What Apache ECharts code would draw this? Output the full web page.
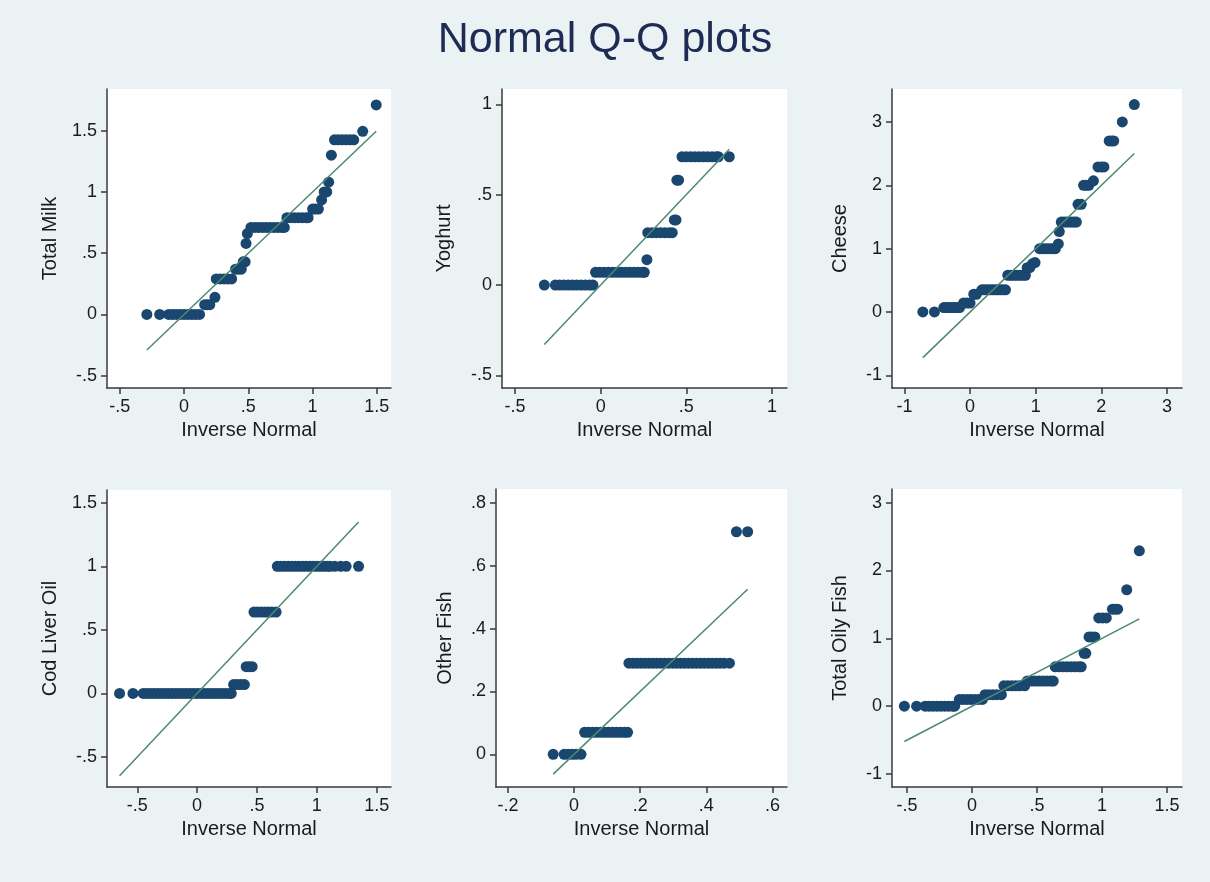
<!DOCTYPE html>
<html><head><meta charset="utf-8">
<script src="https://cdn.jsdelivr.net/npm/echarts@6/dist/echarts.min.js"></script>
<style>html,body{margin:0;padding:0;background:#eaf2f3}#c{width:1210px;height:882px}</style>
</head><body><div id="c"></div>
<script>
const chartTitle = 'Normal Q-Q plots';
const panelNames = ['Total Milk', 'Yoghurt', 'Cheese', 'Cod Liver Oil', 'Other Fish', 'Total Oily Fish'];
const xAxisName = 'Inverse Normal';

const xTicks = [
  [-0.5, 0, 0.5, 1, 1.5],
  [-0.5, 0, 0.5, 1],
  [-1, 0, 1, 2, 3],
  [-0.5, 0, 0.5, 1, 1.5],
  [-0.2, 0, 0.2, 0.4, 0.6],
  [-0.5, 0, 0.5, 1, 1.5]
];
const yTicks = [
  [-0.5, 0, 0.5, 1, 1.5],
  [-0.5, 0, 0.5, 1],
  [-1, 0, 1, 2, 3],
  [-0.5, 0, 0.5, 1, 1.5],
  [0, 0.2, 0.4, 0.6, 0.8],
  [-1, 0, 1, 2, 3]
];
const xRanges = [[-0.60, 1.61], [-0.576, 1.088], [-1.19, 3.23], [-0.753, 1.62], [-0.236, 0.644], [-0.615, 1.615]];
const yRanges = [[-0.60, 1.84], [-0.57, 1.085], [-1.2, 3.52], [-0.736, 1.6], [-0.104, 0.844], [-1.19, 3.2]];

// [inverse normal, observed]
const totalMilkPoints = [
  [-0.29, 0], [-0.19, 0],
  [-0.12, 0], [-0.09, 0], [-0.06, 0], [-0.03, 0], [0, 0], [0.03, 0], [0.06, 0], [0.09, 0], [0.12, 0],
  [0.16, 0.08], [0.18, 0.08], [0.20, 0.08], [0.24, 0.14],
  [0.25, 0.29], [0.28, 0.29], [0.31, 0.29], [0.34, 0.29], [0.37, 0.29],
  [0.40, 0.37], [0.42, 0.37], [0.445, 0.37],
  [0.46, 0.43], [0.475, 0.43], [0.482, 0.58], [0.492, 0.66],
  [0.52, 0.71], [0.55, 0.71], [0.58, 0.71], [0.61, 0.71], [0.64, 0.71], [0.67, 0.71], [0.70, 0.71], [0.73, 0.71], [0.76, 0.71], [0.78, 0.71],
  [0.80, 0.79], [0.83, 0.79], [0.86, 0.79], [0.89, 0.79], [0.92, 0.79], [0.95, 0.79], [0.965, 0.79],
  [1.0, 0.86], [1.02, 0.86], [1.045, 0.86],
  [1.07, 0.935], [1.09, 1.0], [1.11, 1.0], [1.125, 1.08], [1.146, 1.30],
  [1.17, 1.425], [1.20, 1.425], [1.23, 1.425], [1.26, 1.425], [1.29, 1.425], [1.32, 1.425],
  [1.39, 1.495], [1.495, 1.71]
];
const yoghurtPoints = [
  [-0.329, 0],
  [-0.265, 0], [-0.24, 0], [-0.215, 0], [-0.19, 0], [-0.165, 0], [-0.14, 0], [-0.115, 0], [-0.09, 0], [-0.065, 0], [-0.045, 0],
  [-0.03, 0.07], [-0.005, 0.07], [0.02, 0.07], [0.045, 0.07], [0.07, 0.07], [0.095, 0.07], [0.12, 0.07], [0.145, 0.07], [0.17, 0.07], [0.195, 0.07], [0.22, 0.07], [0.245, 0.07], [0.255, 0.07],
  [0.27, 0.14],
  [0.275, 0.29], [0.30, 0.29], [0.325, 0.29], [0.35, 0.29], [0.375, 0.29], [0.40, 0.29], [0.418, 0.29],
  [0.43, 0.36], [0.44, 0.36],
  [0.445, 0.58], [0.455, 0.58],
  [0.475, 0.71], [0.50, 0.71], [0.525, 0.71], [0.55, 0.71], [0.575, 0.71], [0.60, 0.71], [0.625, 0.71], [0.65, 0.71], [0.675, 0.71], [0.687, 0.71],
  [0.751, 0.71]
];
const cheesePoints = [
  [-0.72, 0], [-0.543, 0],
  [-0.40, 0.07], [-0.36, 0.07], [-0.32, 0.07], [-0.28, 0.07], [-0.24, 0.07], [-0.20, 0.07], [-0.16, 0.07],
  [-0.10, 0.14], [-0.05, 0.14], [0.0, 0.14],
  [0.056, 0.28], [0.096, 0.28],
  [0.18, 0.35], [0.22, 0.35], [0.26, 0.35], [0.30, 0.35], [0.34, 0.35], [0.38, 0.35], [0.42, 0.35], [0.46, 0.35], [0.50, 0.35], [0.54, 0.35],
  [0.575, 0.58], [0.62, 0.58], [0.665, 0.58], [0.71, 0.58], [0.755, 0.58], [0.80, 0.58], [0.843, 0.58],
  [0.87, 0.70], [0.91, 0.70],
  [0.95, 0.76], [0.99, 0.78],
  [1.06, 1.0], [1.10, 1.0], [1.14, 1.0], [1.18, 1.0], [1.22, 1.0], [1.26, 1.0], [1.30, 1.0],
  [1.345, 1.074], [1.36, 1.27],
  [1.39, 1.42], [1.43, 1.42], [1.47, 1.42], [1.51, 1.42], [1.55, 1.42], [1.59, 1.42], [1.62, 1.42],
  [1.645, 1.70], [1.695, 1.70],
  [1.73, 2.0], [1.77, 2.0], [1.81, 2.0],
  [1.88, 2.07],
  [1.95, 2.29], [2.0, 2.29], [2.04, 2.29],
  [2.12, 2.70], [2.16, 2.70], [2.19, 2.70],
  [2.32, 3.0], [2.503, 3.274]
];
const codLiverOilPoints = [
  [-0.648, 0], [-0.536, 0],
  [-0.45, 0], [-0.42, 0], [-0.39, 0], [-0.36, 0], [-0.33, 0], [-0.30, 0], [-0.27, 0], [-0.24, 0], [-0.21, 0], [-0.18, 0], [-0.15, 0], [-0.12, 0], [-0.09, 0],
  [-0.06, 0], [-0.03, 0], [0, 0], [0.03, 0], [0.06, 0], [0.09, 0], [0.12, 0], [0.15, 0], [0.18, 0], [0.21, 0], [0.24, 0], [0.27, 0], [0.285, 0],
  [0.305, 0.07], [0.335, 0.07], [0.365, 0.07], [0.395, 0.07],
  [0.41, 0.21], [0.435, 0.21], [0.46, 0.21],
  [0.475, 0.64], [0.505, 0.64], [0.535, 0.64], [0.565, 0.64], [0.595, 0.64], [0.625, 0.64], [0.66, 0.64],
  [0.67, 1.0], [0.70, 1.0], [0.73, 1.0], [0.76, 1.0], [0.79, 1.0], [0.82, 1.0], [0.85, 1.0], [0.88, 1.0], [0.91, 1.0], [0.94, 1.0], [0.97, 1.0],
  [1.0, 1.0], [1.03, 1.0], [1.06, 1.0], [1.09, 1.0], [1.11, 1.0], [1.15, 1.0], [1.20, 1.0], [1.245, 1.0],
  [1.349, 1.0]
];
const otherFishPoints = [
  [-0.063, 0],
  [-0.030, 0], [-0.018, 0], [-0.006, 0], [0.006, 0], [0.021, 0],
  [0.032, 0.07], [0.044, 0.07], [0.056, 0.07], [0.068, 0.07], [0.080, 0.07], [0.092, 0.07], [0.104, 0.07], [0.116, 0.07], [0.128, 0.07], [0.140, 0.07], [0.152, 0.07], [0.162, 0.07],
  [0.166, 0.29], [0.178, 0.29], [0.190, 0.29], [0.202, 0.29], [0.214, 0.29], [0.226, 0.29], [0.238, 0.29], [0.250, 0.29], [0.262, 0.29], [0.274, 0.29],
  [0.286, 0.29], [0.298, 0.29], [0.310, 0.29], [0.322, 0.29], [0.334, 0.29], [0.346, 0.29], [0.358, 0.29], [0.370, 0.29], [0.382, 0.29], [0.394, 0.29],
  [0.406, 0.29], [0.418, 0.29], [0.430, 0.29], [0.442, 0.29], [0.454, 0.29], [0.470, 0.29],
  [0.491, 0.708], [0.525, 0.708]
];
const totalOilyFishPoints = [
  [-0.52, 0], [-0.426, 0],
  [-0.36, 0], [-0.33, 0], [-0.30, 0], [-0.27, 0], [-0.24, 0], [-0.21, 0], [-0.18, 0], [-0.15, 0], [-0.133, 0],
  [-0.097, 0.1], [-0.07, 0.1], [-0.04, 0.1], [-0.01, 0.1], [0.02, 0.1], [0.05, 0.1], [0.08, 0.1],
  [0.10, 0.17], [0.13, 0.17], [0.16, 0.17], [0.19, 0.17], [0.226, 0.17],
  [0.245, 0.30], [0.275, 0.30], [0.305, 0.30], [0.335, 0.30], [0.365, 0.30], [0.405, 0.30],
  [0.425, 0.37], [0.455, 0.37], [0.485, 0.37], [0.515, 0.37], [0.545, 0.37], [0.575, 0.37], [0.605, 0.37], [0.625, 0.37],
  [0.64, 0.58], [0.67, 0.58], [0.70, 0.58], [0.73, 0.58], [0.76, 0.58], [0.79, 0.58], [0.82, 0.58], [0.84, 0.58],
  [0.862, 0.78], [0.875, 0.78],
  [0.90, 1.02], [0.92, 1.02], [0.945, 1.02],
  [0.975, 1.30], [1.005, 1.30], [1.033, 1.30],
  [1.08, 1.43], [1.10, 1.43], [1.12, 1.43],
  [1.19, 1.716], [1.287, 2.289]
];
const panelPoints = [totalMilkPoints, yoghurtPoints, cheesePoints, codLiverOilPoints, otherFishPoints, totalOilyFishPoints];

// reference (y = x) line endpoints
const refLines = [
  [[-0.29, -0.29], [1.495, 1.495]],
  [[-0.329, -0.329], [0.751, 0.751]],
  [[-0.72, -0.72], [2.503, 2.503]],
  [[-0.648, -0.648], [1.349, 1.349]],
  [[-0.063, -0.063], [0.525, 0.525]],
  [[-0.52, -0.52], [1.287, 1.287]]
];

const grids = [
  { left: 107, top: 89, width: 284, height: 299 },
  { left: 502, top: 89, width: 285, height: 299 },
  { left: 892, top: 89, width: 290, height: 299 },
  { left: 107, top: 490, width: 284, height: 297 },
  { left: 496, top: 489, width: 291, height: 298 },
  { left: 892, top: 489, width: 290, height: 298 }
];
const yNameGaps = [47, 48, 42, 47, 41, 42];

const FONT = 'Liberation Sans, Arial, sans-serif';
const TEXT = '#1b1b1b';
const AXIS = '#3a3a3a';
function fmt(v) {
  if (v === 0) return '0';
  const s = (Math.round(v * 1000) / 1000).toString();
  return s.replace(/^(-?)0\./, '$1.');
}

const option = {
  backgroundColor: '#eaf2f3',
  animation: false,
  title: {
    text: chartTitle, left: 'center', top: 14,
    textStyle: { fontSize: 43, fontWeight: 'normal', color: '#1e2b55', fontFamily: FONT }
  },
  grid: grids.map(g => Object.assign({ show: true, backgroundColor: '#ffffff', borderWidth: 0, containLabel: false }, g)),
  xAxis: grids.map((g, i) => ({
    type: 'value', gridIndex: i, min: xRanges[i][0], max: xRanges[i][1],
    name: xAxisName, nameLocation: 'middle', nameGap: 32,
    nameTextStyle: { fontSize: 20, color: TEXT, fontFamily: FONT },
    axisLine: { show: true, onZero: false, lineStyle: { color: AXIS, width: 1.5 } },
    axisTick: { show: true, length: 6, customValues: xTicks[i], lineStyle: { color: AXIS, width: 1.5 } },
    axisLabel: { show: true, customValues: xTicks[i], formatter: fmt, fontSize: 18, color: TEXT, fontFamily: FONT, margin: 10 },
    splitLine: { show: false }
  })),
  yAxis: grids.map((g, i) => ({
    type: 'value', gridIndex: i, min: yRanges[i][0], max: yRanges[i][1],
    name: panelNames[i], nameLocation: 'middle', nameGap: yNameGaps[i], nameRotate: 90,
    nameTextStyle: { fontSize: 20, color: TEXT, fontFamily: FONT },
    axisLine: { show: true, onZero: false, lineStyle: { color: AXIS, width: 1.5 } },
    axisTick: { show: true, length: 6, customValues: yTicks[i], lineStyle: { color: AXIS, width: 1.5 } },
    axisLabel: { show: true, customValues: yTicks[i], formatter: fmt, fontSize: 18, color: TEXT, fontFamily: FONT, margin: 10 },
    splitLine: { show: false }
  })),
  series: []
};
panelPoints.forEach((pts, i) => {
  option.series.push({
    type: 'scatter', xAxisIndex: i, yAxisIndex: i, data: pts,
    symbol: 'circle', symbolSize: 11, itemStyle: { color: '#1a476f', opacity: 1 }, z: 2
  });
  option.series.push({
    type: 'line', xAxisIndex: i, yAxisIndex: i, data: refLines[i],
    symbol: 'none', lineStyle: { color: '#4b8a72', width: 1.5 }, z: 3
  });
});
const chart = echarts.init(document.getElementById('c'), null, { renderer: 'canvas' });
chart.setOption(option);
</script></body></html>
